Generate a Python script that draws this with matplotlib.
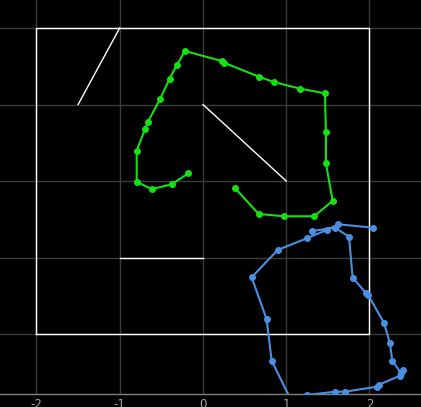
import numpy as np
import matplotlib
matplotlib.use('Agg')
import matplotlib.pyplot as plt

plt.rcParams['axes.unicode_minus'] = False

# walls of the arena (white)
walls = [
    ([-2, 2, 2, -2, -2], [-2, -2, 2, 2, -2]),
    ([-1.5, -1.0], [1.0, 2.0]),
    ([0.0, 1.0], [1.0, 0.0]),
    ([-1.0, 0.0], [-1.0, -1.0]),
]

# green trajectory
green_x = [-0.177, -0.376, -0.616, -0.796, -0.796, -0.697, -0.664, -0.517,
           -0.400, -0.312, -0.216, 0.225, 0.252, 0.673, 0.849, 1.169,
           1.465, 1.477, 1.477, 1.558, 1.337, 0.973, 0.669, 0.384]
green_y = [0.100, -0.043, -0.108, -0.009, 0.396, 0.676, 0.767, 1.068,
           1.337, 1.520, 1.699, 1.569, 1.546, 1.363, 1.294, 1.207,
           1.146, 0.644, 0.231, -0.258, -0.461, -0.461, -0.431, -0.092]

# blue trajectory
blue_x = [1.306, 1.586, 1.754, 1.798, 1.958, 1.986, 2.174, 2.246, 2.274,
          2.375, 2.406, 2.366, 2.114, 2.087, 1.706, 1.586, 1.246, 1.081,
          0.825, 0.765, 0.585, 0.897, 1.246, 1.486, 1.625, 2.046]
blue_y = [-0.654, -0.610, -0.728, -1.264, -1.464, -1.494, -1.852, -2.122, -2.349,
          -2.506, -2.471, -2.545, -2.663, -2.689, -2.754, -2.754, -2.797, -2.915,
          -2.349, -1.808, -1.259, -0.902, -0.749, -0.641, -0.566, -0.610]

xticks = [-2, -1, 0, 1, 2]
yticks = [-2, -1, 0, 1, 2]

fig = plt.figure(figsize=(4.21, 4.07), dpi=100, facecolor='black')
ax = fig.add_axes([0, 13 / 407, 1, 394 / 407])
ax.set_facecolor('black')

for wx, wy in walls:
    ax.plot(wx, wy, color='white', linewidth=1.0, zorder=2)

ax.plot(green_x, green_y, '-o', color='#14e014', linewidth=1.5, markersize=4, zorder=3)
ax.plot(blue_x, blue_y, '-o', color='#4a90e2', linewidth=1.5, markersize=4, zorder=3)

ax.set_xlim(-2.438, 2.619)
ax.set_ylim(-2.784, 2.366)
ax.set_xticks(xticks)
ax.set_yticks(yticks)
ax.set_yticklabels([])
ax.grid(True, color='#3c3c3c', linewidth=1.0, zorder=0)
ax.set_axisbelow(True)
ax.tick_params(axis='both', length=0, pad=3, labelsize=8.5, colors='#aaaaaa')

for side in ['top', 'left', 'right']:
    ax.spines[side].set_visible(False)
ax.spines['bottom'].set_color('#808080')
ax.spines['bottom'].set_linewidth(1.0)

fig.savefig('out.png', dpi=100, facecolor='black')
